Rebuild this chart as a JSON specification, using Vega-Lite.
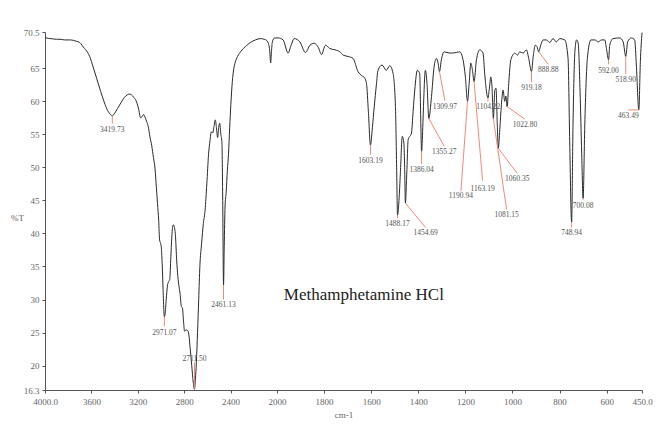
{
  "$schema": "https://vega.github.io/schema/vega-lite/v6.json",
  "width": 597,
  "height": 358,
  "autosize": {"type": "none"},
  "padding": {"left": 45, "top": 32, "right": 25, "bottom": 51},
  "background": "white",
  "config": {"view": {"stroke": null}, "axis": {"labelOverlap": false, "labelBound": false, "labelFlush": false}},
  "datasets": {
    "spectrum": [
      {"wn":4000,"t":69.7},{"wn":3990,"t":69.6},{"wn":3950,"t":69.5},{"wn":3900,"t":69.4},{"wn":3870,"t":69.4},{"wn":3830,"t":69.3},{"wn":3780,"t":69.3},{"wn":3730,"t":69.1},{"wn":3700,"t":68.9},{"wn":3660,"t":68.0},{"wn":3640,"t":67.6},{"wn":3615,"t":66.8},{"wn":3585,"t":65.2},{"wn":3555,"t":63.5},{"wn":3520,"t":61.5},{"wn":3490,"t":59.9},{"wn":3460,"t":58.6},{"wn":3435,"t":58.0},{"wn":3420,"t":57.8},{"wn":3400,"t":58.2},{"wn":3375,"t":58.9},{"wn":3345,"t":59.8},{"wn":3315,"t":60.6},{"wn":3290,"t":61.0},{"wn":3275,"t":61.1},{"wn":3255,"t":61.0},{"wn":3235,"t":60.6},{"wn":3215,"t":60.1},{"wn":3195,"t":59.0},{"wn":3175,"t":57.5},{"wn":3160,"t":57.8},{"wn":3150,"t":58.0},{"wn":3140,"t":57.7},{"wn":3125,"t":57.0},{"wn":3110,"t":56.2},{"wn":3095,"t":54.6},{"wn":3080,"t":53.3},{"wn":3065,"t":51.5},{"wn":3052,"t":49.9},{"wn":3040,"t":47.0},{"wn":3030,"t":44.5},{"wn":3020,"t":42.0},{"wn":3012,"t":39.0},{"wn":3005,"t":38.6},{"wn":2998,"t":38.0},{"wn":2990,"t":35.5},{"wn":2982,"t":31.5},{"wn":2975,"t":28.2},{"wn":2971,"t":27.4},{"wn":2965,"t":27.8},{"wn":2955,"t":30.0},{"wn":2945,"t":32.0},{"wn":2935,"t":32.7},{"wn":2925,"t":33.0},{"wn":2915,"t":36.5},{"wn":2905,"t":40.0},{"wn":2895,"t":41.3},{"wn":2885,"t":41.0},{"wn":2875,"t":39.5},{"wn":2865,"t":36.0},{"wn":2855,"t":33.5},{"wn":2845,"t":32.0},{"wn":2835,"t":30.8},{"wn":2825,"t":29.0},{"wn":2815,"t":28.7},{"wn":2805,"t":26.5},{"wn":2797,"t":25.2},{"wn":2785,"t":25.4},{"wn":2770,"t":25.3},{"wn":2760,"t":24.7},{"wn":2748,"t":22.5},{"wn":2735,"t":20.0},{"wn":2722,"t":17.5},{"wn":2711.5,"t":16.4},{"wn":2703,"t":18.0},{"wn":2695,"t":20.5},{"wn":2685,"t":25.0},{"wn":2675,"t":30.0},{"wn":2665,"t":35.0},{"wn":2650,"t":38.5},{"wn":2635,"t":41.5},{"wn":2620,"t":43.5},{"wn":2605,"t":47.5},{"wn":2590,"t":52.0},{"wn":2578,"t":54.0},{"wn":2566,"t":55.4},{"wn":2555,"t":55.2},{"wn":2545,"t":56.0},{"wn":2532,"t":57.2},{"wn":2522,"t":56.0},{"wn":2512,"t":54.5},{"wn":2503,"t":56.0},{"wn":2494,"t":56.7},{"wn":2484,"t":55.0},{"wn":2475,"t":53.9},{"wn":2468,"t":45.0},{"wn":2461,"t":32.2},{"wn":2455,"t":38.0},{"wn":2448,"t":44.0},{"wn":2438,"t":46.3},{"wn":2428,"t":49.5},{"wn":2418,"t":52.0},{"wn":2408,"t":56.0},{"wn":2398,"t":59.5},{"wn":2385,"t":63.0},{"wn":2372,"t":65.0},{"wn":2355,"t":66.2},{"wn":2340,"t":66.8},{"wn":2310,"t":67.6},{"wn":2272,"t":68.3},{"wn":2230,"t":68.9},{"wn":2186,"t":69.3},{"wn":2143,"t":69.5},{"wn":2110,"t":69.4},{"wn":2095,"t":69.3},{"wn":2075,"t":68.8},{"wn":2062,"t":67.5},{"wn":2055,"t":65.8},{"wn":2048,"t":67.5},{"wn":2040,"t":69.0},{"wn":2020,"t":69.6},
      {"wn":2010,"t":69.6},{"wn":1995,"t":69.6},{"wn":1974,"t":69.3},{"wn":1953,"t":67.3},{"wn":1940,"t":68.5},{"wn":1927,"t":69.5},{"wn":1903,"t":69.0},{"wn":1879,"t":67.4},{"wn":1860,"t":68.5},{"wn":1842,"t":68.8},{"wn":1825,"t":68.2},{"wn":1811,"t":67.1},{"wn":1794,"t":68.5},{"wn":1776,"t":68.0},{"wn":1754,"t":67.8},{"wn":1733,"t":67.5},{"wn":1719,"t":67.0},{"wn":1698,"t":66.8},{"wn":1677,"t":66.5},{"wn":1656,"t":64.5},{"wn":1640,"t":63.9},{"wn":1627,"t":63.5},{"wn":1620,"t":62.7},{"wn":1612,"t":58.5},{"wn":1603.19,"t":53.4},{"wn":1595,"t":56.0},{"wn":1587,"t":59.2},{"wn":1578,"t":62.5},{"wn":1571,"t":64.7},{"wn":1554,"t":65.5},{"wn":1536,"t":64.7},{"wn":1521,"t":65.4},{"wn":1507,"t":64.2},{"wn":1497,"t":59.2},{"wn":1492,"t":50.0},{"wn":1488.17,"t":42.8},{"wn":1482,"t":45.0},{"wn":1476,"t":49.2},{"wn":1468,"t":54.7},{"wn":1461,"t":53.6},{"wn":1458,"t":50.0},{"wn":1454.69,"t":44.6},{"wn":1449,"t":49.0},{"wn":1443,"t":54.2},{"wn":1429,"t":55.2},{"wn":1422,"t":58.5},{"wn":1415,"t":61.7},{"wn":1404,"t":64.7},{"wn":1394,"t":64.2},{"wn":1390,"t":58.0},{"wn":1386.04,"t":52.4},{"wn":1381,"t":56.0},{"wn":1377,"t":60.2},{"wn":1370,"t":64.7},{"wn":1363,"t":62.7},{"wn":1355.27,"t":57.4},{"wn":1344,"t":60.7},{"wn":1333,"t":65.2},{"wn":1323,"t":66.5},{"wn":1316,"t":65.8},{"wn":1309.97,"t":64.5},{"wn":1302,"t":66.3},{"wn":1290,"t":67.5},{"wn":1266,"t":67.3},{"wn":1238,"t":67.4},{"wn":1224,"t":67.5},{"wn":1210,"t":66.3},{"wn":1200,"t":63.7},{"wn":1190.94,"t":60.0},{"wn":1184,"t":62.7},{"wn":1177,"t":65.8},{"wn":1170,"t":64.7},{"wn":1163.19,"t":63.0},{"wn":1153,"t":66.3},{"wn":1139,"t":67.8},{"wn":1125,"t":67.3},{"wn":1118,"t":64.2},{"wn":1104.22,"t":60.5},{"wn":1098,"t":62.0},{"wn":1092,"t":63.7},{"wn":1087,"t":62.2},{"wn":1081.15,"t":57.4},{"wn":1075,"t":61.7},{"wn":1070,"t":62.0},{"wn":1065,"t":57.0},{"wn":1060.35,"t":52.9},{"wn":1054,"t":55.7},{"wn":1047,"t":59.5},{"wn":1040,"t":61.7},{"wn":1033,"t":60.0},{"wn":1028,"t":60.8},{"wn":1022.8,"t":59.2},{"wn":1016,"t":62.7},{"wn":1007,"t":66.3},{"wn":990,"t":67.3},{"wn":979,"t":67.0},{"wn":969,"t":67.5},{"wn":955,"t":67.3},{"wn":941,"t":67.8},{"wn":931,"t":66.5},{"wn":919.18,"t":64.5},{"wn":912,"t":66.8},{"wn":903,"t":68.5},{"wn":896,"t":68.3},{"wn":888.88,"t":67.5},{"wn":880,"t":68.5},{"wn":870,"t":69.3},{"wn":856,"t":69.3},{"wn":842,"t":68.9},{"wn":828,"t":69.5},{"wn":814,"t":69.0},{"wn":799,"t":69.5},{"wn":778,"t":69.3},{"wn":764,"t":66.5},{"wn":757,"t":53.9},{"wn":748.94,"t":41.7},{"wn":743,"t":56.4},{"wn":735,"t":67.5},{"wn":728,"t":69.3},{"wn":721,"t":68.8},{"wn":713,"t":61.5},{"wn":706,"t":52.0},{"wn":700.08,"t":45.3},{"wn":693,"t":56.4},{"wn":682,"t":66.5},{"wn":667,"t":69.3},{"wn":650,"t":69.3},{"wn":636,"t":69.0},{"wn":622,"t":69.3},{"wn":608,"t":69.3},{"wn":601,"t":68.0},{"wn":592,"t":66.3},{"wn":587,"t":68.5},{"wn":573,"t":69.5},{"wn":544,"t":69.6},{"wn":530,"t":69.0},{"wn":518.9,"t":66.8},{"wn":511,"t":69.0},{"wn":495,"t":69.6},{"wn":481,"t":69.3},{"wn":474,"t":65.5},{"wn":463.49,"t":58.7},{"wn":457,"t":66.0},{"wn":450,"t":70.4}
    ],
    "peaks": [
      {"label":"3419.73","wn":3419.73,"t":57.8,"ex":3419.73,"et":56.6,"lx":3419.73,"lt":55.7},
      {"label":"2971.07","wn":2971.07,"t":27.4,"ex":2971.07,"et":25.9,"lx":2971.07,"lt":25.0},
      {"label":"2711.50","wn":2711.5,"t":16.5,"ex":2711.5,"et":20.5,"lx":2711.5,"lt":21.0},
      {"label":"2461.13","wn":2461.13,"t":32.2,"ex":2461.13,"et":30.0,"lx":2461.13,"lt":29.2},
      {"label":"1603.19","wn":1603.19,"t":53.4,"ex":1603.19,"et":51.9,"lx":1603.19,"lt":51.0},
      {"label":"1488.17","wn":1488.17,"t":42.8,"ex":1488.17,"et":42.3,"lx":1488.17,"lt":41.4},
      {"label":"1454.69","wn":1454.69,"t":44.6,"ex":1369,"et":40.9,"lx":1369,"lt":40.0},
      {"label":"1386.04","wn":1386.04,"t":52.4,"ex":1386.04,"et":50.5,"lx":1386.04,"lt":49.6},
      {"label":"1355.27","wn":1355.27,"t":57.4,"ex":1290,"et":53.2,"lx":1290,"lt":52.3},
      {"label":"1309.97","wn":1309.97,"t":64.5,"ex":1287,"et":60.1,"lx":1287,"lt":59.2},
      {"label":"1190.94","wn":1190.94,"t":60.0,"ex":1219,"et":46.4,"lx":1219,"lt":45.6},
      {"label":"1163.19","wn":1163.19,"t":63.0,"ex":1127,"et":48.0,"lx":1127,"lt":46.8},
      {"label":"1104.22","wn":1104.22,"t":60.5,"ex":1104.22,"et":60.0,"lx":1103,"lt":59.2},
      {"label":"1081.15","wn":1081.15,"t":57.4,"ex":1025,"et":43.6,"lx":1025,"lt":42.8},
      {"label":"1060.35","wn":1060.35,"t":52.9,"ex":980,"et":49.1,"lx":980,"lt":48.2},
      {"label":"1022.80","wn":1022.8,"t":59.2,"ex":947,"et":57.3,"lx":947,"lt":56.4},
      {"label":"919.18","wn":919.18,"t":64.5,"ex":919.18,"et":62.9,"lx":919.18,"lt":62.0},
      {"label":"888.88","wn":888.88,"t":67.5,"ex":848,"et":65.6,"lx":848,"lt":64.7},
      {"label":"748.94","wn":748.94,"t":41.7,"ex":748.94,"et":40.9,"lx":748.94,"lt":40.0},
      {"label":"700.08","wn":700.08,"t":45.3,"ex":700.08,"et":45.1,"lx":700.08,"lt":44.2},
      {"label":"592.00","wn":592.0,"t":66.3,"ex":592.0,"et":65.6,"lx":592.0,"lt":64.6},
      {"label":"518.90","wn":518.9,"t":66.8,"ex":518.9,"et":64.1,"lx":518.9,"lt":63.2},
      {"label":"463.49","wn":463.49,"t":58.7,"ex":508,"et":58.7,"lx":508,"lt":57.8}
    ],
    "caption": [{"text":"Methamphetamine HCl","wn":1631,"t":30.7}]
  },
  "layer": [
    {
      "data": {"name": "spectrum"},
      "mark": {"type": "line", "color": "#2a2a2a", "strokeWidth": 1, "interpolate": "monotone"},
      "encoding": {
        "x": {
          "field": "wn", "type": "quantitative",
          "scale": {"domain": [4000, 2000, 450], "range": [0, 232, 597], "nice": false, "zero": false},
          "axis": {
            "title": "cm-1",
            "values": [4000, 3600, 3200, 2800, 2400, 2000, 1800, 1600, 1400, 1200, 1000, 800, 600, 450],
            "tickCount": 40,
            "labelExpr": "datum.value == 4000 ? '4000.0' : datum.value == 450 ? '450.0' : '' + datum.value",
            "labelOverlap": false,
            "grid": false,
            "domainColor": "#555", "tickColor": "#555", "tickSize": 3,
            "labelFont": "Liberation Serif", "labelFontSize": 9, "labelColor": "#666", "labelPadding": 4,
            "titleFont": "Liberation Serif", "titleFontSize": 9, "titleFontWeight": "normal", "titleColor": "#666", "titlePadding": 4
          }
        },
        "y": {
          "field": "t", "type": "quantitative",
          "scale": {"domain": [16.3, 70.5], "nice": false, "zero": false},
          "axis": {
            "title": "%T",
            "values": [16.3, 20, 25, 30, 35, 40, 45, 50, 55, 60, 65, 70.5],
            "tickCount": 40,
            "labelExpr": "'' + datum.value",
            "labelOverlap": false,
            "grid": false,
            "domainColor": "#555", "tickColor": "#555", "tickSize": 3,
            "labelFont": "Liberation Serif", "labelFontSize": 9, "labelColor": "#666", "labelPadding": 3,
            "titleFont": "Liberation Serif", "titleFontSize": 9, "titleFontWeight": "normal", "titleColor": "#666",
            "titleAngle": 0, "titleAlign": "center", "titleBaseline": "middle", "titleX": -28, "titleY": 185
          }
        }
      }
    },
    {
      "data": {"name": "peaks"},
      "mark": {"type": "rule", "color": "#f08a78", "strokeWidth": 1},
      "encoding": {
        "x": {"field": "wn", "type": "quantitative", "title": "cm-1"},
        "y": {"field": "t", "type": "quantitative", "title": "%T"},
        "x2": {"field": "ex"},
        "y2": {"field": "et"}
      }
    },
    {
      "data": {"name": "peaks"},
      "mark": {"type": "text", "font": "Liberation Serif", "fontSize": 7.5, "fill": "#555555", "align": "center", "baseline": "middle"},
      "encoding": {
        "x": {"field": "lx", "type": "quantitative", "title": "cm-1"},
        "y": {"field": "lt", "type": "quantitative", "title": "%T"},
        "text": {"field": "label"}
      }
    },
    {
      "data": {"name": "caption"},
      "mark": {"type": "text", "font": "Liberation Serif", "fontSize": 17, "fill": "#222222", "align": "center", "baseline": "middle"},
      "encoding": {
        "x": {"field": "wn", "type": "quantitative", "title": "cm-1"},
        "y": {"field": "t", "type": "quantitative", "title": "%T"},
        "text": {"field": "text"}
      }
    }
  ]
}
